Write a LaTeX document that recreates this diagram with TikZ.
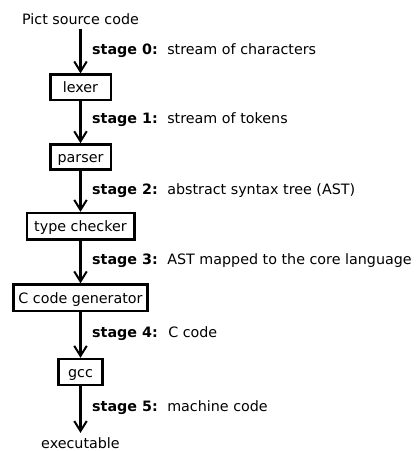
\documentclass[tikz,border=0pt]{standalone}
\usepackage{fontspec}
\setmainfont{DejaVu Sans}
\usetikzlibrary{arrows.meta}
\begin{document}
\begin{tikzpicture}[x=1pt,y=-1pt,
  font=\fontsize{14.3}{17}\selectfont,
  stagebox/.style={draw,line width=2.5pt,inner sep=0pt,text height=11.2pt,text depth=0pt},
  term/.style={inner xsep=0pt,inner ysep=4pt,text height=11.2pt,text depth=0pt},
  flow/.style={line width=2.4pt,-{Straight Barb[length=10pt,width=12.5pt,line width=2pt]}},
  stagelabel/.style={anchor=base west,inner sep=0pt}]
\useasboundingbox (0,0) rectangle (417,451);

% compiler pipeline, top to bottom
\node[term] (src) at (80.5,18.7) {Pict source code};
\node[stagebox,minimum width=60.5pt,minimum height=25.2pt] (lexer) at (80.5,87.2) {lexer};
\node[stagebox,minimum width=60.5pt,minimum height=25.2pt] (parser) at (80.5,157) {parser};
\node[stagebox,minimum width=107.5pt,minimum height=26.5pt] (check) at (80.5,226.3) {type checker};
\node[stagebox,minimum width=134.1pt,minimum height=26.5pt] (cgen) at (80.5,297.8) {C code generator};
\node[stagebox,minimum width=44.2pt,minimum height=25.8pt] (gcc) at (80.5,371.9) {gcc};
\node[term] (exe) at (80.5,442.7) {executable};

\draw[flow] (src.south) -- (lexer.north);
\draw[flow] (lexer.south) -- (parser.north);
\draw[flow] (parser.south) -- (check.north);
\draw[flow] (check.south) -- (cgen.north);
\draw[flow] (cgen.south) -- (gcc.north);
\draw[flow] (gcc.south) -- (exe.north);

% what flows between the stages
\node[stagelabel] (s0) at (92,54) {\textbf{stage 0:}\hspace{9.5pt}stream of characters};
\node[stagelabel] (s1) at (92,123) {\textbf{stage 1:}\hspace{9.5pt}stream of tokens};
\node[stagelabel] (s2) at (92,194.3) {\textbf{stage 2:}\hspace{9.5pt}abstract syntax tree (AST)};
\node[stagelabel] (s3) at (92,264.3) {\textbf{stage 3:}\hspace{9.5pt}AST mapped to the core language};
\node[stagelabel] (s4) at (92,337.3) {\textbf{stage 4:}\hspace{10.5pt}C code};
\node[stagelabel] (s5) at (92,411.7) {\textbf{stage 5:}\hspace{9.5pt}machine code};
\end{tikzpicture}
\end{document}
